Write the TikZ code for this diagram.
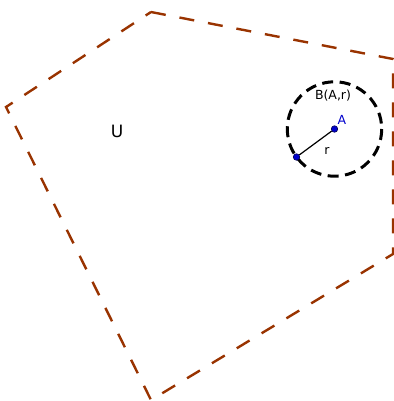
\documentclass[tikz,border=0pt]{standalone}
\usepackage{fontspec}
\setmainfont{DejaVu Sans}
\definecolor{poly}{RGB}{153,51,0}
\definecolor{ptblue}{RGB}{0,0,204}
\definecolor{ptedge}{RGB}{0,0,80}
\begin{document}
\begin{tikzpicture}[x=1bp,y=-1bp,
  polyline/.style={draw=poly,line width=2.4bp,dash pattern=on 15bp off 14bp},
  ballline/.style={draw=black,line width=3bp,dash pattern=on 11bp off 6.5bp},
  pt/.style={circle,fill=ptblue,draw=ptedge,line width=0.6bp,inner sep=0pt,minimum size=6.5bp},
  lbl/.style={inner sep=0pt,font=\fontsize{12.5bp}{14bp}\selectfont}]
\useasboundingbox (0,0) rectangle (394,401);
\coordinate (P1) at (151,12);
\coordinate (P2) at (393,59);
\coordinate (P3) at (393,254);
\coordinate (P4) at (151,400);
\coordinate (P5) at (6,107);
\draw[polyline] (P1) -- (P2) -- (P3) -- (P4) -- (P5) -- cycle;
\coordinate (Ac) at (334.5,129);
\draw[ballline] (Ac) circle (47.2);
\node[pt] (A) at (334.5,129) {};
\node[pt] (B) at (296.5,157) {};
\draw[line width=1.2bp] (A) -- (B);
\node[lbl] (lA) at (342,119.5) {\textcolor{ptblue}{A}};
\node[lbl] (lr) at (327,151) {r};
\node[lbl] (lBall) at (333,96) {B(A,r)};
\node[inner sep=0pt,font=\fontsize{17bp}{19bp}\selectfont] (lU) at (117,131) {U};
\end{tikzpicture}
\end{document}
